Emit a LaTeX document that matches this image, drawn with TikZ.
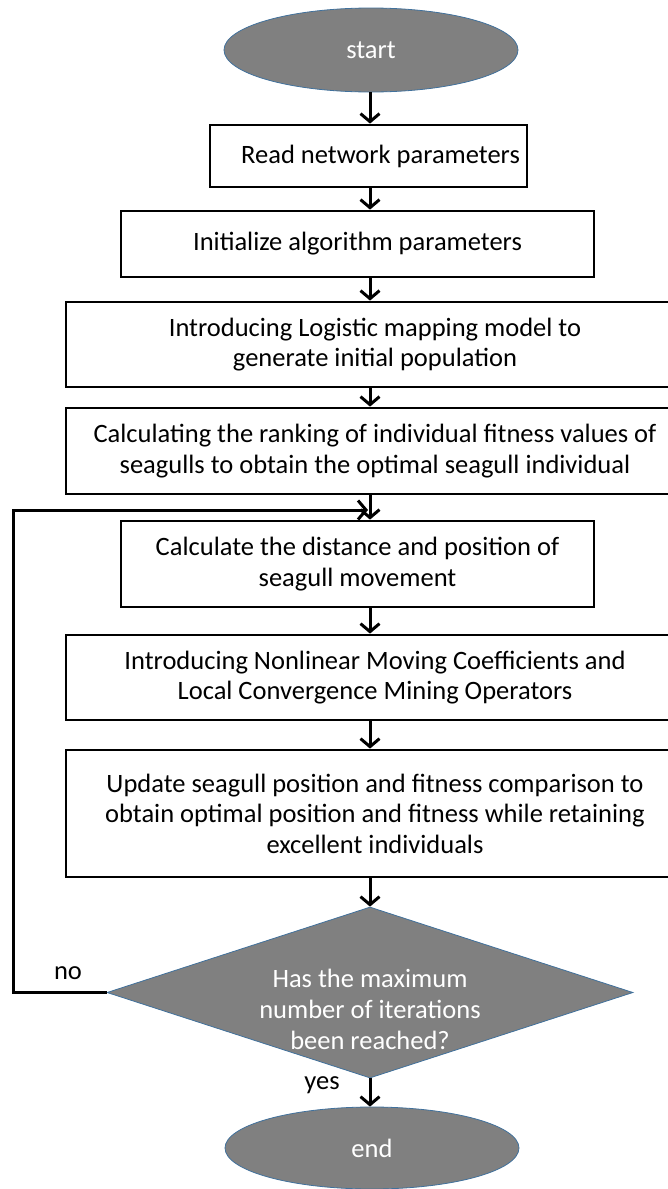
\documentclass[tikz,border=0pt]{standalone}
\usepackage{fontspec}
\setmainfont{Carlito}
\usetikzlibrary{shapes.geometric,arrows.meta}
\definecolor{termgray}{RGB}{128,128,128}
\definecolor{edgeblue}{RGB}{65,113,156}
\begin{document}
\begin{tikzpicture}[x=1pt,y=-1pt,
  font=\fontsize{26.5pt}{30.5pt}\selectfont,
  box/.style={draw, line width=2.8pt, inner sep=0pt, align=center},
  term/.style={ellipse, draw=edgeblue, line width=0.8pt, fill=termgray, text=white,
    inner sep=0pt, minimum width=294pt, minimum height=84pt},
  decision/.style={diamond, draw=edgeblue, line width=0.8pt, fill=termgray,
    inner sep=0pt, aspect=3.08, minimum width=526pt, minimum height=171pt},
  flow/.style={line width=3pt, -{Straight Barb[length=8pt,width=19pt]}}]
  \useasboundingbox (0,0) rectangle (668,1189);
  % terminals and steps
  \node[term] (start) at (371,50) {start};
  \node[box, minimum width=317pt, minimum height=62pt] (read) at (368.5,156)
    {\hspace*{24pt}Read network parameters};
  \node[box, minimum width=473pt, minimum height=66pt] (init) at (357.5,244)
    {Initialize algorithm parameters};
  \node[box, minimum width=618pt, minimum height=85pt] (logistic) at (375,344.5)
    {Introducing Logistic mapping model to\\generate initial population};
  \node[box, minimum width=618pt, minimum height=86pt] (rank) at (375,451)
    {Calculating the ranking of individual fitness values of\\seagulls to obtain the optimal seagull individual};
  \node[box, minimum width=473pt, minimum height=86pt] (calc) at (357.5,564)
    {Calculate the distance and position of\\seagull movement};
  \node[box, minimum width=618pt, minimum height=85pt] (coef) at (375,677.5)
    {Introducing Nonlinear Moving Coefficients and\\Local Convergence Mining Operators};
  \node[box, minimum width=618pt, minimum height=127pt] (update) at (375,813.5)
    {Update seagull position and fitness comparison to\\obtain optimal position and fitness while retaining\\excellent individuals};
  \node[decision, label={[text=white, align=center, yshift=-17pt,
      font=\fontsize{26.5pt}{31pt}\selectfont]center:Has the maximum\\number of iterations\\been reached?}]
    (check) at (370,992.5) {};
  \node[term, minimum height=82pt] (stop) at (372,1148) {end};
  % connectors
  \coordinate (axis) at (370,0);
  \coordinate (loopx) at (13,510);
  \coordinate (loopin) at (368,510);
  \foreach \a/\b in {start/read, read/init, init/logistic, logistic/rank,
    rank/calc, calc/coef, coef/update, update/check, check/stop}
    \draw[flow] (\a.south -| axis) -- (\b.north -| axis);
  \draw[flow] (check.west) -| (loopx) -- (loopin);
  \node (no) at (68,973) {no};
  \node (yes) at (322,1085) {yes};
\end{tikzpicture}
\end{document}
